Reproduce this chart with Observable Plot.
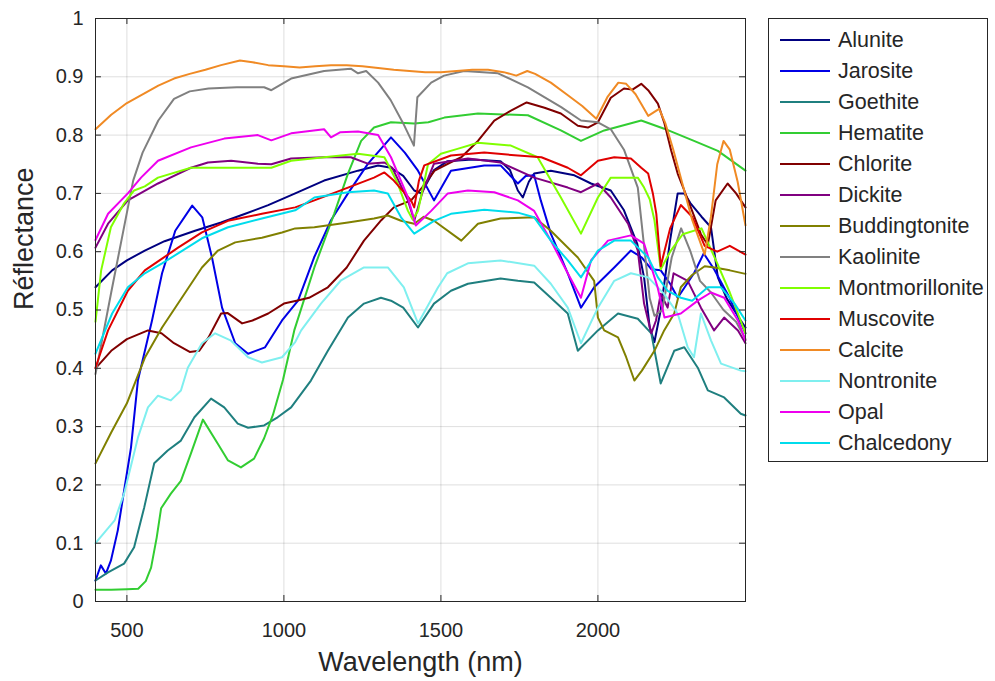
<!DOCTYPE html>
<html><head><meta charset="utf-8">
<script src="https://cdn.jsdelivr.net/npm/d3@7"></script>
<script src="https://cdn.jsdelivr.net/npm/@observablehq/plot@0.6"></script>
<style>
body{margin:0;background:#fff;font-family:"Liberation Sans",Arial,sans-serif}
#wrap{position:relative;width:995px;height:681px}
#legend{position:absolute;left:768px;top:18px;width:220px;height:444px;border:1px solid #262626;background:#fff;box-sizing:border-box}
.item{position:absolute;left:0;height:24px;display:flex;align-items:center;white-space:nowrap}
.sw{display:inline-block;width:50px;height:0;border-top:2.5px solid;margin-left:11px;margin-right:8px}
.lb{font-size:21.5px;color:#262626}
</style></head><body><div id="wrap"><div id="legend"></div></div>
<script>
// ---- data: [wavelength nm, reflectance] ----
const alunite = [[400,0.539],[453,0.568],[500,0.585],[557,0.602],[620,0.618],[717,0.636],[800,0.65],[877,0.665],[950,0.68],[1036,0.70],[1128,0.722],[1236,0.739],[1300,0.748],[1341,0.744],[1380,0.73],[1415,0.705],[1437,0.70],[1478,0.74],[1520,0.755],[1600,0.758],[1690,0.755],[1720,0.74],[1745,0.705],[1761,0.693],[1780,0.72],[1797,0.734],[1850,0.739],[1925,0.731],[1978,0.717],[2041,0.705],[2083,0.671],[2125,0.614],[2147,0.556],[2165,0.47],[2180,0.445],[2200,0.5],[2230,0.62],[2254,0.70],[2275,0.70],[2295,0.683],[2330,0.66],[2360,0.642],[2382,0.556],[2410,0.52],[2455,0.482],[2470,0.47]];
const jarosite = [[400,0.036],[417,0.062],[433,0.048],[449,0.07],[471,0.122],[491,0.19],[513,0.264],[535,0.379],[580,0.482],[612,0.563],[654,0.636],[708,0.679],[740,0.659],[771,0.59],[803,0.504],[845,0.443],[886,0.425],[940,0.436],[994,0.482],[1045,0.516],[1096,0.59],[1150,0.654],[1204,0.70],[1268,0.751],[1341,0.796],[1385,0.77],[1427,0.739],[1478,0.688],[1532,0.739],[1638,0.748],[1690,0.748],[1745,0.717],[1770,0.73],[1797,0.731],[1818,0.688],[1850,0.631],[1904,0.563],[1946,0.504],[1988,0.539],[2052,0.573],[2105,0.602],[2140,0.59],[2170,0.57],[2200,0.568],[2230,0.545],[2254,0.521],[2306,0.563],[2337,0.597],[2370,0.57],[2420,0.52],[2470,0.46]];
const goethite = [[400,0.036],[440,0.05],[491,0.065],[523,0.093],[555,0.161],[587,0.237],[630,0.259],[672,0.276],[715,0.316],[768,0.348],[810,0.333],[853,0.305],[886,0.298],[937,0.302],[980,0.316],[1023,0.333],[1086,0.379],[1140,0.43],[1204,0.487],[1255,0.511],[1309,0.521],[1341,0.516],[1380,0.504],[1427,0.47],[1478,0.511],[1532,0.533],[1586,0.545],[1690,0.554],[1745,0.55],[1797,0.547],[1850,0.521],[1904,0.494],[1936,0.43],[2000,0.465],[2064,0.494],[2127,0.485],[2170,0.46],[2200,0.374],[2243,0.43],[2275,0.436],[2318,0.401],[2350,0.362],[2402,0.35],[2455,0.322],[2470,0.319]];
const hematite = [[400,0.02],[450,0.02],[500,0.021],[536,0.022],[560,0.035],[577,0.058],[595,0.11],[609,0.16],[640,0.185],[672,0.207],[704,0.254],[742,0.312],[790,0.27],[822,0.242],[863,0.23],[905,0.245],[937,0.28],[965,0.32],[997,0.38],[1033,0.465],[1097,0.573],[1160,0.665],[1204,0.734],[1246,0.79],[1287,0.813],[1341,0.822],[1415,0.82],[1460,0.822],[1511,0.83],[1618,0.837],[1777,0.834],[1882,0.808],[1946,0.79],[2020,0.808],[2138,0.825],[2211,0.811],[2306,0.79],[2382,0.773],[2470,0.739]];
const chlorite = [[400,0.40],[450,0.43],[500,0.45],[567,0.465],[610,0.46],[650,0.443],[700,0.428],[730,0.43],[760,0.453],[800,0.494],[820,0.495],[867,0.477],[900,0.482],[950,0.494],[1000,0.511],[1040,0.516],[1080,0.521],[1140,0.539],[1200,0.573],[1255,0.619],[1310,0.654],[1350,0.676],[1405,0.688],[1440,0.71],[1480,0.739],[1530,0.753],[1565,0.762],[1618,0.79],[1670,0.825],[1723,0.842],[1773,0.856],[1830,0.847],[1882,0.837],[1936,0.816],[1968,0.813],[2000,0.822],[2041,0.864],[2083,0.88],[2110,0.878],[2138,0.888],[2160,0.877],[2191,0.854],[2212,0.82],[2233,0.774],[2254,0.734],[2275,0.705],[2300,0.67],[2328,0.63],[2350,0.612],[2375,0.688],[2413,0.717],[2440,0.70],[2470,0.676]];
const dickite = [[400,0.607],[440,0.648],[503,0.688],[599,0.717],[630,0.725],[704,0.744],[758,0.753],[832,0.756],[917,0.751],[960,0.75],[1023,0.76],[1128,0.762],[1213,0.762],[1267,0.751],[1320,0.753],[1345,0.744],[1395,0.688],[1415,0.653],[1440,0.70],[1478,0.751],[1586,0.76],[1690,0.753],[1797,0.727],[1904,0.71],[1946,0.702],[2000,0.717],[2041,0.693],[2096,0.648],[2127,0.602],[2147,0.511],[2170,0.46],[2185,0.482],[2200,0.528],[2222,0.504],[2241,0.563],[2286,0.55],[2328,0.504],[2370,0.465],[2402,0.487],[2446,0.465],[2470,0.443]];
const buddingtonite = [[400,0.237],[450,0.29],[500,0.34],[557,0.418],[612,0.47],[675,0.521],[739,0.573],[790,0.602],[845,0.616],[930,0.624],[994,0.633],[1036,0.64],[1097,0.642],[1204,0.65],[1287,0.657],[1331,0.662],[1373,0.653],[1415,0.648],[1445,0.66],[1478,0.653],[1565,0.619],[1618,0.648],[1690,0.657],[1797,0.659],[1850,0.636],[1936,0.59],[1988,0.55],[2000,0.487],[2020,0.465],[2064,0.453],[2090,0.419],[2116,0.379],[2140,0.396],[2180,0.43],[2211,0.465],[2243,0.494],[2264,0.539],[2300,0.56],[2340,0.575],[2371,0.573],[2420,0.568],[2470,0.562]];
const kaolinite = [[400,0.39],[450,0.53],[500,0.667],[520,0.722],[550,0.77],[600,0.825],[650,0.862],[700,0.875],[760,0.88],[850,0.882],[937,0.882],[960,0.877],[1023,0.897],[1128,0.91],[1213,0.914],[1236,0.906],[1262,0.91],[1300,0.89],[1340,0.86],[1380,0.82],[1414,0.782],[1425,0.865],[1469,0.89],[1510,0.902],[1574,0.91],[1682,0.906],[1777,0.882],[1883,0.848],[1946,0.825],[2000,0.822],[2041,0.81],[2083,0.775],[2127,0.71],[2145,0.62],[2165,0.52],[2180,0.49],[2205,0.5],[2235,0.59],[2265,0.64],[2295,0.6],[2325,0.55],[2360,0.53],[2400,0.5],[2440,0.48],[2470,0.45]];
const montmorillonite = [[400,0.48],[418,0.568],[449,0.642],[491,0.683],[523,0.705],[557,0.712],[599,0.727],[704,0.744],[810,0.744],[917,0.744],[960,0.744],[1023,0.756],[1128,0.762],[1236,0.768],[1320,0.762],[1360,0.72],[1395,0.67],[1410,0.655],[1427,0.67],[1459,0.75],[1500,0.768],[1550,0.776],[1618,0.787],[1723,0.782],[1808,0.762],[1882,0.693],[1946,0.631],[2000,0.693],[2041,0.727],[2127,0.727],[2147,0.71],[2165,0.69],[2180,0.654],[2200,0.57],[2230,0.6],[2270,0.63],[2330,0.64],[2380,0.58],[2420,0.53],[2470,0.46]];
const muscovite = [[400,0.401],[440,0.465],[503,0.533],[557,0.568],[612,0.588],[663,0.607],[739,0.633],[822,0.653],[930,0.665],[1036,0.676],[1097,0.688],[1204,0.71],[1287,0.727],[1320,0.736],[1350,0.722],[1405,0.688],[1415,0.676],[1430,0.722],[1447,0.748],[1532,0.765],[1638,0.77],[1745,0.765],[1820,0.762],[1904,0.744],[1946,0.731],[2000,0.756],[2052,0.762],[2105,0.76],[2138,0.744],[2160,0.734],[2175,0.70],[2186,0.665],[2200,0.575],[2230,0.64],[2264,0.68],[2300,0.66],[2340,0.61],[2380,0.60],[2420,0.61],[2470,0.595]];
const calcite = [[400,0.81],[450,0.835],[500,0.855],[550,0.87],[600,0.885],[650,0.897],[700,0.905],[750,0.912],[800,0.92],[860,0.928],[900,0.925],[950,0.92],[1000,0.918],[1050,0.916],[1100,0.918],[1150,0.92],[1200,0.92],[1250,0.918],[1300,0.915],[1350,0.912],[1400,0.91],[1450,0.908],[1500,0.908],[1550,0.91],[1600,0.912],[1650,0.912],[1700,0.908],[1740,0.902],[1775,0.91],[1800,0.905],[1850,0.89],[1900,0.87],[1950,0.85],[1995,0.828],[2030,0.865],[2065,0.89],[2090,0.888],[2120,0.87],[2160,0.833],[2195,0.845],[2215,0.82],[2240,0.775],[2270,0.715],[2300,0.655],[2340,0.595],[2360,0.66],[2380,0.75],[2400,0.79],[2420,0.775],[2445,0.72],[2470,0.645]];
const nontronite = [[400,0.10],[461,0.139],[491,0.185],[535,0.281],[567,0.333],[599,0.353],[640,0.345],[672,0.362],[694,0.401],[739,0.443],[781,0.46],[830,0.448],[886,0.419],[930,0.41],[994,0.419],[1036,0.445],[1055,0.465],[1118,0.511],[1182,0.551],[1255,0.573],[1331,0.573],[1382,0.539],[1427,0.477],[1491,0.539],[1520,0.563],[1586,0.58],[1690,0.585],[1797,0.576],[1850,0.545],[1904,0.504],[1946,0.443],[2000,0.504],[2052,0.55],[2105,0.563],[2160,0.556],[2210,0.528],[2254,0.494],[2286,0.436],[2306,0.419],[2328,0.494],[2360,0.448],[2392,0.408],[2455,0.396],[2470,0.395]];
const opal = [[400,0.62],[440,0.665],[503,0.70],[545,0.727],[599,0.756],[704,0.779],[810,0.794],[917,0.80],[960,0.791],[1023,0.803],[1128,0.81],[1150,0.796],[1180,0.805],[1236,0.806],[1300,0.80],[1341,0.762],[1395,0.693],[1420,0.645],[1469,0.67],[1522,0.70],[1586,0.705],[1670,0.702],[1745,0.688],[1797,0.67],[1850,0.619],[1904,0.563],[1946,0.521],[1978,0.585],[2032,0.619],[2105,0.628],[2147,0.614],[2190,0.539],[2212,0.487],[2264,0.494],[2318,0.516],[2360,0.53],[2402,0.521],[2446,0.482],[2470,0.448]];
const chalcedony = [[400,0.425],[453,0.494],[503,0.539],[557,0.563],[612,0.58],[663,0.597],[739,0.623],[822,0.642],[930,0.657],[1036,0.671],[1097,0.693],[1204,0.702],[1287,0.705],[1331,0.70],[1373,0.659],[1415,0.631],[1478,0.653],[1532,0.665],[1638,0.672],[1745,0.667],[1797,0.659],[1850,0.619],[1904,0.585],[1946,0.556],[2000,0.602],[2052,0.619],[2105,0.619],[2160,0.59],[2191,0.556],[2222,0.533],[2264,0.521],[2300,0.516],[2350,0.539],[2392,0.539],[2435,0.511],[2470,0.482]];

const names = ["Alunite","Jarosite","Goethite","Hematite","Chlorite","Dickite","Buddingtonite","Kaolinite","Montmorillonite","Muscovite","Calcite","Nontronite","Opal","Chalcedony"];
const seriesData = [alunite,jarosite,goethite,hematite,chlorite,dickite,buddingtonite,kaolinite,montmorillonite,muscovite,calcite,nontronite,opal,chalcedony];
const colors = ["#000080","#0000e6","#1f7f7f","#32cd32","#800000","#800080","#808000","#808080","#80ff00","#e00000","#f08a24","#7fefef","#ee00ee","#00dcec"];

const xTicks = [500,1000,1500,2000];
const xTickLabels = ["500","1000","1500","2000"];
const yTicks = [0,0.1,0.2,0.3,0.4,0.5,0.6,0.7,0.8,0.9,1];
const yTickLabels = ["0","0.1","0.2","0.3","0.4","0.5","0.6","0.7","0.8","0.9","1"];
const xLabel = "Wavelength (nm)";
const yLabel = "Réflectance";
const xDomain = [400, 2470];
const yDomain = [0, 1];

// ---- chart ----
const rows = [];
seriesData.forEach((arr, i) => arr.forEach(([w, r]) => rows.push({name: names[i], w, r})));

const ink = "#262626";
const chart = Plot.plot({
  width: 995, height: 681,
  marginLeft: 95, marginRight: 250, marginTop: 18, marginBottom: 80,
  style: {fontFamily: "'Liberation Sans', Arial, sans-serif", fontSize: "20px", color: ink, background: "#fff"},
  x: {domain: xDomain, label: null},
  y: {domain: yDomain, label: null},
  color: {domain: names, range: colors},
  marks: [
    Plot.gridX(xTicks, {stroke: "#000", strokeOpacity: 0.13}),
    Plot.gridY(yTicks, {stroke: "#000", strokeOpacity: 0.13}),
    Plot.line(rows, {x: "w", y: "r", z: "name", stroke: "name", strokeWidth: 2, strokeLinejoin: "round"}),
    Plot.frame({stroke: ink}),
    Plot.ruleX(xTicks, {x: d => d, y1: 0, y2: 0.0103, stroke: ink}),
    Plot.ruleX(xTicks, {x: d => d, y1: 0.9897, y2: 1, stroke: ink}),
    Plot.ruleY(yTicks, {y: d => d, x1: xDomain[0], x2: xDomain[0] + 19, stroke: ink}),
    Plot.ruleY(yTicks, {y: d => d, x1: xDomain[1] - 19, x2: xDomain[1], stroke: ink}),
    Plot.axisX(xTicks, {tickSize: 0, tickPadding: 21, fontSize: 20, color: ink, label: null,
      tickFormat: d => xTickLabels[xTicks.indexOf(d)]}),
    Plot.axisY(yTicks, {tickSize: 0, tickPadding: 12, fontSize: 20, color: ink, label: null,
      tickFormat: d => yTickLabels[yTicks.indexOf(d)]}),
    Plot.text([xLabel], {text: d => d, frameAnchor: "bottom", dy: 69, fontSize: 27, fill: ink}),
    Plot.text([yLabel], {text: d => d, frameAnchor: "left", dx: -71, rotate: -90, fontSize: 27, fill: ink})
  ]
});
document.getElementById("wrap").prepend(chart);

// ---- legend ----
const lg = document.getElementById("legend");
names.forEach((n, i) => {
  const it = document.createElement("div");
  it.className = "item";
  it.style.top = (9 + i * 31) + "px";
  it.innerHTML = `<span class="sw" style="border-color:${colors[i]}"></span><span class="lb">${n}</span>`;
  lg.appendChild(it);
});
</script>
</body></html>
